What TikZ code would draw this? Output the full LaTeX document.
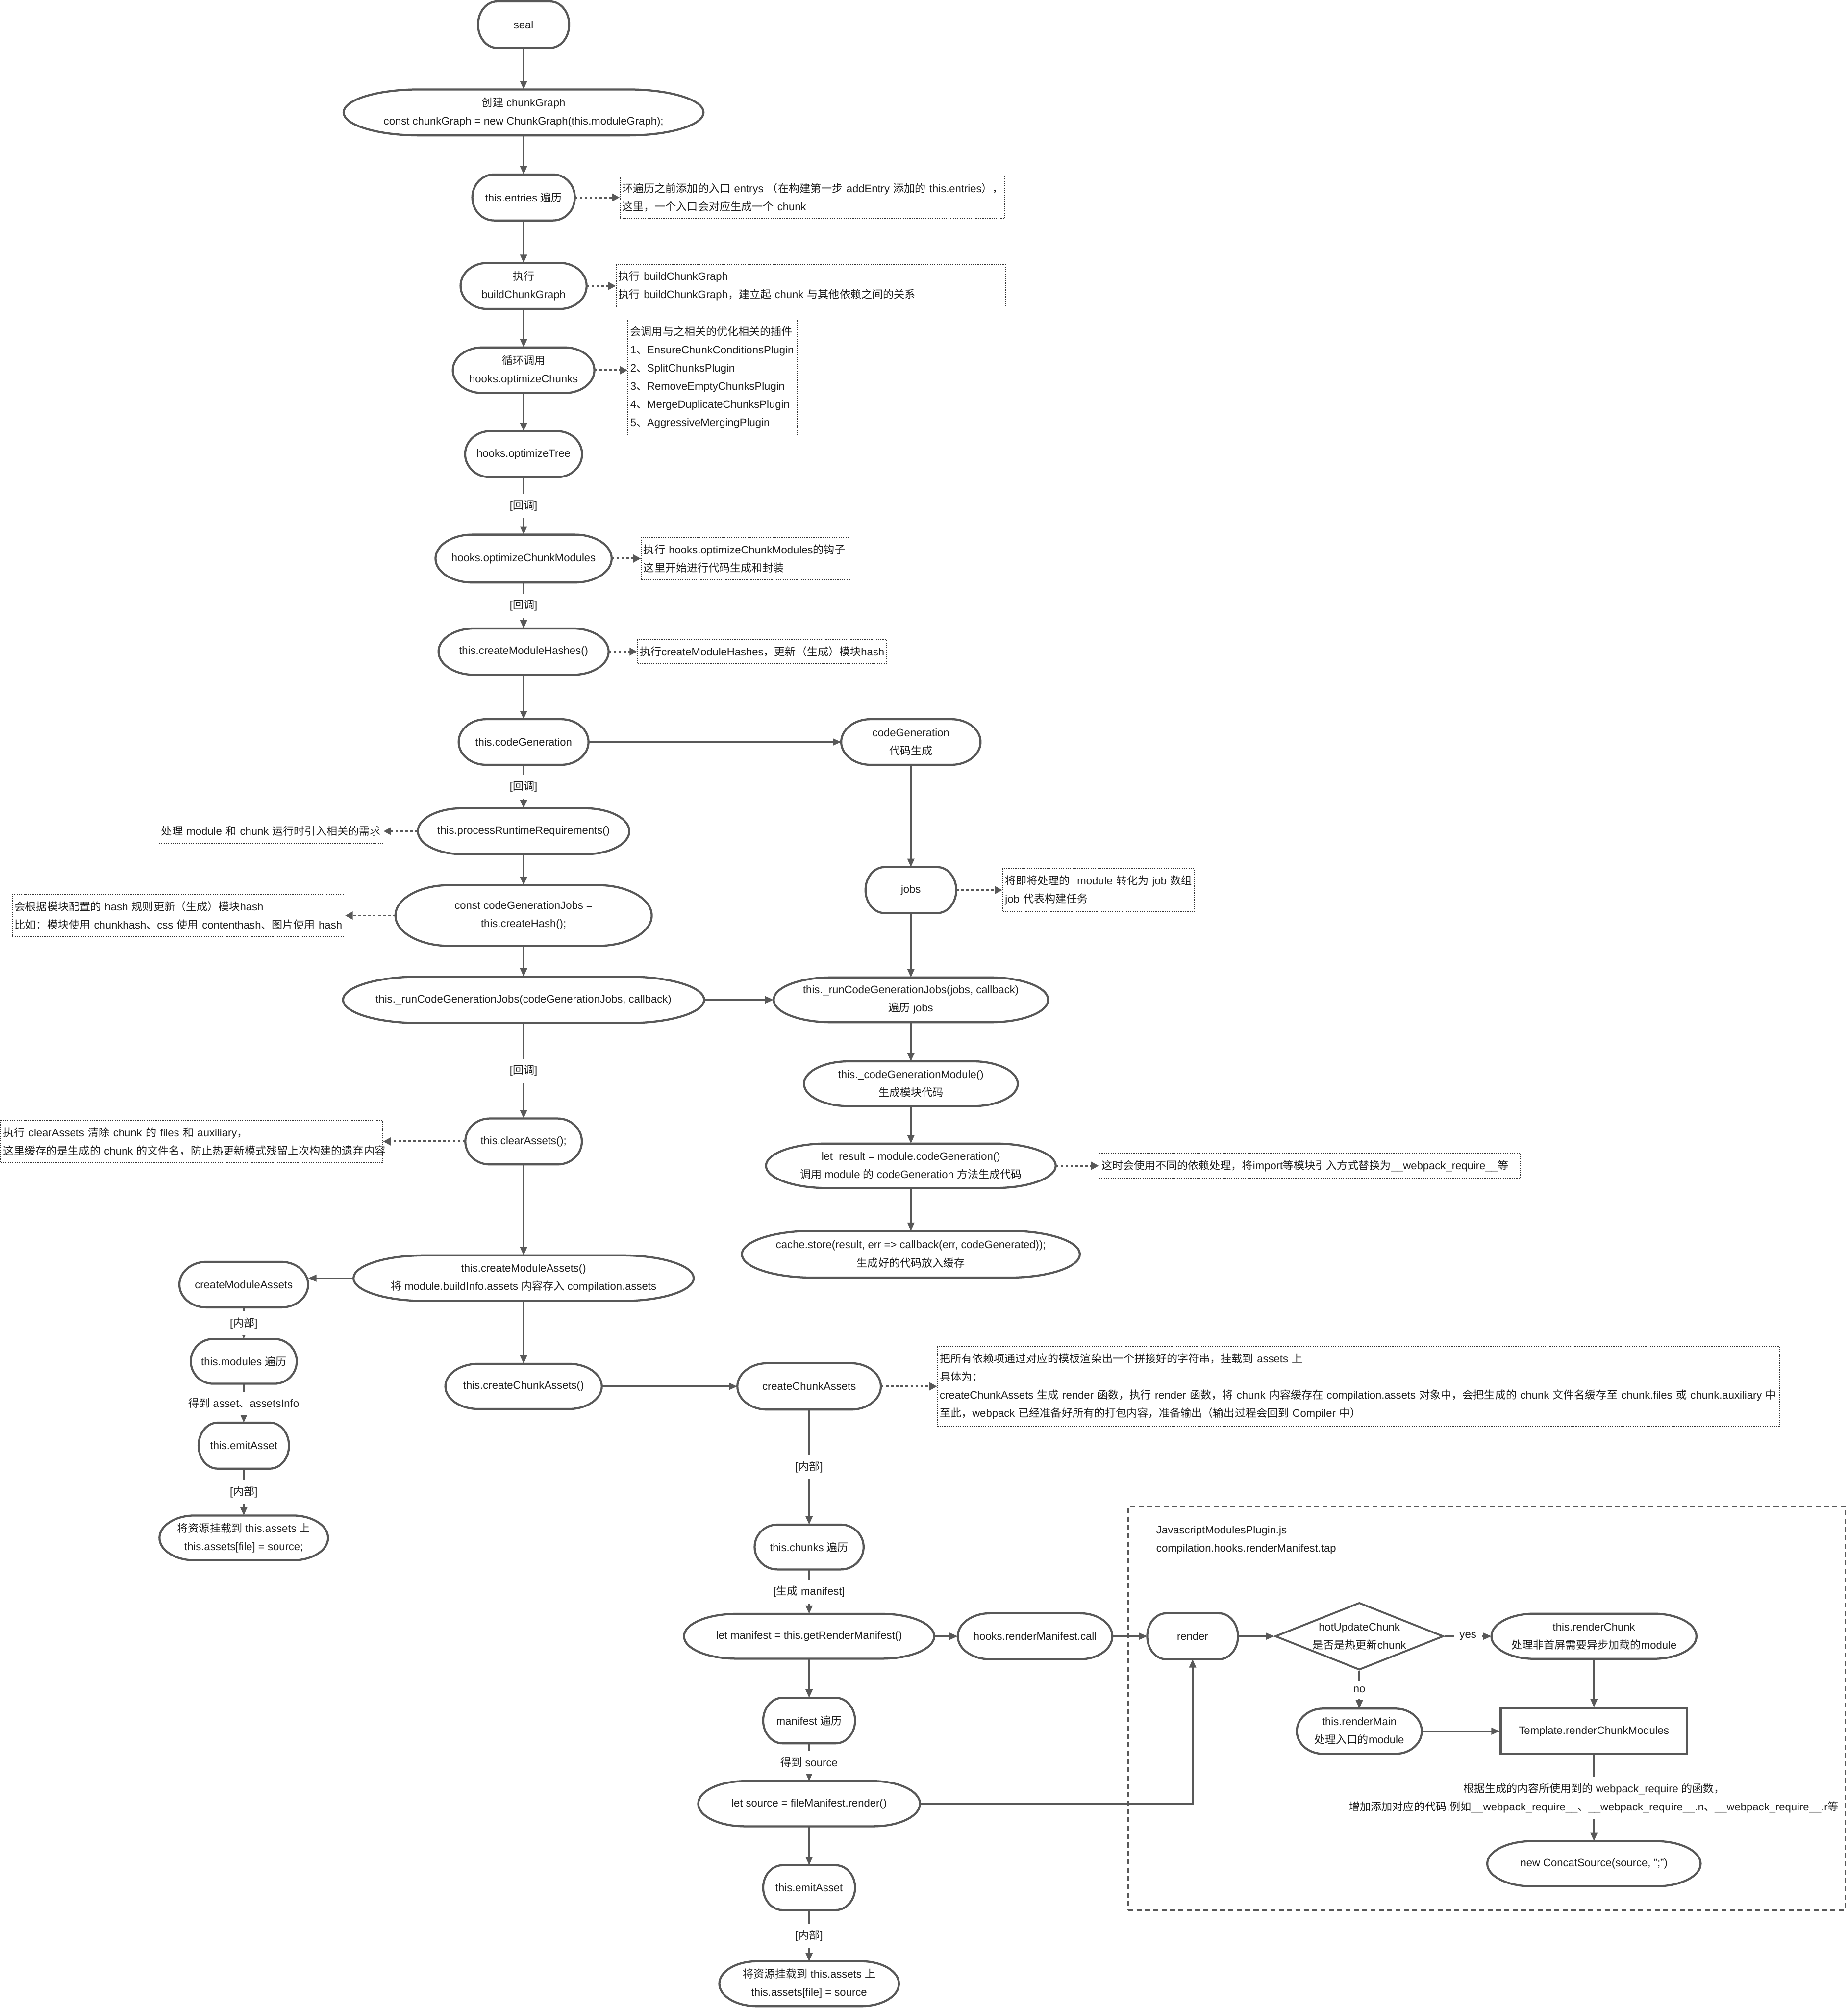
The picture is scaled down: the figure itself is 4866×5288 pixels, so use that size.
\documentclass[tikz,border=0pt]{standalone}
\usepackage{fontspec}
\setmainfont{Liberation Sans}
\newfontfamily\cjkfont{Noto Sans CJK SC}
\usetikzlibrary{arrows.meta,shapes.geometric,calc}
% automatic switch to the CJK font for Chinese characters
\XeTeXinterchartokenstate=1
\chardef\cjkcls=100
\newcount\cjkcnt
\def\setcjkrange#1#2{\cjkcnt=#1\relax\loop\XeTeXcharclass\cjkcnt=\cjkcls\relax\advance\cjkcnt by 1\relax\ifnum\cjkcnt<#2\relax\repeat}
\setcjkrange{"3000}{"3040}
\setcjkrange{"4E00}{"A000}
\setcjkrange{"FF00}{"FFF0}
\XeTeXinterchartoks 0 \cjkcls = {\cjkfont}
\XeTeXinterchartoks 4095 \cjkcls = {\cjkfont}
\XeTeXinterchartoks \cjkcls 0 = {\rmfamily}
\XeTeXinterchartoks \cjkcls 4095 = {\rmfamily}
\newcommand\oneln[1]{\mbox{#1}}
\definecolor{lc}{RGB}{88,88,88}
\definecolor{tc}{RGB}{30,30,30}
\definecolor{nc}{RGB}{50,50,50}
\tikzset{
  txt/.style={font=\fontsize{8.1pt}{13.6pt}\selectfont, text=tc},
  term/.style 2 args={txt, align=center, inner sep=0.02cm, outer sep=0pt,
    minimum width=#1*0.01cm, minimum height=#2*0.01cm},
  border/.style={draw=lc, line width=0.055cm, line join=round},
  rectbox/.style 2 args={txt, draw=lc, line width=0.055cm, fill=white, align=center,
    minimum width=#1*0.01cm, minimum height=#2*0.01cm},
  decision/.style={txt, draw=lc, line width=0.05cm, diamond, fill=white, align=center, inner sep=0pt,
    shape aspect=2.5, minimum width=4.43cm, minimum height=1.77cm},
  note/.style 2 args={txt, draw=nc, line width=0.02cm, dash pattern=on 0.03cm off 0.03cm, align=left,
    anchor=west, text width=#1, minimum height=#2, inner xsep=0.06cm, inner ysep=0pt},
  conn/.style={draw=lc, line width=0.045cm, -{Triangle[length=0.22cm,width=0.18cm]}},
  dconn/.style={draw=lc, line width=0.05cm, dash pattern=on 0.07cm off 0.06cm, -{Triangle[length=0.2cm,width=0.2cm]}},
  lbl/.style={txt, fill=white, inner xsep=0.06cm, inner ysep=0.17cm},
  jsbox/.style={draw=lc, line width=0.035cm, dash pattern=on 0.13cm off 0.09cm, inner sep=0pt},
}
% outline with elliptic ends for a terminal node: #1 node name, #2 end radius (px)
\newcommand\capsule[2]{%
\draw[border] ([xshift=#2*0.01cm]#1.north west) -- ([xshift=-#2*0.01cm]#1.north east)
 .. controls ([xshift=-#2*0.0044771cm]#1.north east) and ($(#1.east)!0.5523!(#1.north east)$) .. (#1.east)
 .. controls ($(#1.east)!0.5523!(#1.south east)$) and ([xshift=-#2*0.0044771cm]#1.south east) .. ([xshift=-#2*0.01cm]#1.south east)
 -- ([xshift=#2*0.01cm]#1.south west)
 .. controls ([xshift=#2*0.0044771cm]#1.south west) and ($(#1.west)!0.5523!(#1.south west)$) .. (#1.west)
 .. controls ($(#1.west)!0.5523!(#1.north west)$) and ([xshift=#2*0.0044771cm]#1.north west) .. ([xshift=#2*0.01cm]#1.north west) -- cycle;}
\begin{document}
\begin{tikzpicture}[x=0.01cm,y=-0.01cm]
\useasboundingbox (0,0) rectangle (4866,5288);
\fill[white] (0,0) rectangle (4866,5288);

% container of JavascriptModulesPlugin
\node[jsbox, minimum width=18.87cm, minimum height=10.62cm] (jsb) at (3915.5,4499) {};
\node[txt, align=left, anchor=west] (jst) at (3033,4055) {JavascriptModulesPlugin.js\\compilation.hooks.renderManifest.tap};

% main column
\node[term={240}{122}] (seal) at (1379,65) {seal};
\node[term={948}{121}] (cg) at (1379,296) {创建 chunkGraph\\const chunkGraph = new ChunkGraph(this.moduleGraph);};
\node[term={270}{121}] (ent) at (1379,520) {this.entries 遍历};
\node[term={332}{121}] (bcg) at (1379,753) {执行\\buildChunkGraph};
\node[term={373}{120}] (oc) at (1379,975) {循环调用\\hooks.optimizeChunks};
\node[term={308}{121}] (ot) at (1379,1196) {hooks.optimizeTree};
\node[term={464}{126}] (ocm) at (1379,1471) {hooks.optimizeChunkModules};
\node[term={448}{122}] (cmh) at (1379,1716) {this.createModuleHashes()};
\node[term={342}{120}] (tcg) at (1379,1954) {this.codeGeneration};
\node[term={557}{121}] (prr) at (1379,2189) {this.processRuntimeRequirements()};
\node[term={675}{160}] (chs) at (1379,2411) {const codeGenerationJobs =\\this.createHash();};
\node[term={951}{122}] (rjm) at (1379,2633) {this.\_runCodeGenerationJobs(codeGenerationJobs, callback)};
\node[term={307}{121}] (clr) at (1379,3006) {this.clearAssets();};
\node[term={896}{120}] (cma) at (1379,3366) {this.createModuleAssets()\\将 module.buildInfo.assets 内容存入 compilation.assets};
\node[term={412}{119}] (cca) at (1379,3651) {this.createChunkAssets()};

% left branch
\node[term={339}{120}] (cmal) at (642,3383) {createModuleAssets};
\node[term={279}{118}] (mods) at (642,3585) {this.modules 遍历};
\node[term={238}{121}] (ema1) at (642,3807) {this.emitAsset};
\node[term={444}{118}] (mnt1) at (642,4050) {将资源挂载到 this.assets 上\\this.assets[file] = source;};

% right column
\node[term={367}{120}] (cgr) at (2399,1954) {codeGeneration\\代码生成};
\node[term={239}{121}] (jobs) at (2399,2344) {jobs};
\node[term={723}{118}] (rjr) at (2399,2633) {this.\_runCodeGenerationJobs(jobs, callback)\\遍历 jobs};
\node[term={563}{118}] (cgm) at (2399,2854) {this.\_codeGenerationModule()\\生成模块代码};
\node[term={763}{117}] (res) at (2399,3070) {let \ result = module.codeGeneration()\\调用 module 的 codeGeneration 方法生成代码};
\node[term={890}{123}] (cache) at (2399,3303) {cache.store(result, err => callback(err, codeGenerated));\\生成好的代码放入缓存};

% chunk assets column
\node[term={378}{122}] (ccar) at (2131,3651) {createChunkAssets};
\node[term={287}{118}] (chk) at (2131,4074) {this.chunks 遍历};
\node[term={659}{118}] (lm) at (2131,4309) {let manifest = this.getRenderManifest()};
\node[term={242}{120}] (mfi) at (2131,4531) {manifest 遍历};
\node[term={584}{119}] (ls) at (2131,4750) {let source = fileManifest.render()};
\node[term={242}{118}] (ema2) at (2131,4971) {this.emitAsset};
\node[term={473}{118}] (mnt2) at (2131,5224) {将资源挂载到 this.assets 上\\this.assets[file] = source};
\node[term={407}{121}] (hrm) at (2726,4309) {hooks.renderManifest.call};

% render part
\node[term={239}{121}] (rnd) at (3141,4309) {render};
\node[decision] (hot) at (3580,4309) {hotUpdateChunk\\是否是热更新chunk};
\node[term={540}{119}] (rch) at (4198,4309) {this.renderChunk\\处理非首屏需要异步加载的module};
\node[term={329}{119}] (rmn) at (3580,4559) {this.renderMain\\处理入口的module};
\node[rectbox={491}{120}] (tpl) at (4198,4559) {Template.renderChunkModules};
\node[term={562}{119}] (ccs) at (4198,4908) {new ConcatSource(source, ";")};

% outlines of the terminal nodes
\foreach \nm/\rr in {seal/50, cg/199, ent/57, bcg/70, oc/78, ot/65, ocm/97, cmh/94, tcg/72, prr/117,
  chs/142, rjm/200, clr/64, cma/188, cca/87, cmal/71, mods/59, ema1/50, mnt1/93, cgr/77, jobs/50,
  rjr/152, cgm/118, res/160, cache/187, ccar/79, chk/60, lm/138, mfi/51, ls/123, ema2/51, mnt2/99,
  hrm/85, rnd/50, rch/113, rmn/69, ccs/118}
  {\capsule{\nm}{\rr}}

% notes
\node[note={10.01cm}{1.12cm}] (n1) at (1632,520) {\oneln{环遍历之前添加的入口 entrys （在构建第一步 addEntry 添加的 this.entries），}\\\oneln{这里，一个入口会对应生成一个 chunk}};
\node[note={10.12cm}{1.12cm}] (n2) at (1622,753) {\oneln{执行 buildChunkGraph}\\\oneln{执行 buildChunkGraph，建立起 chunk 与其他依赖之间的关系}};
\node[note={4.33cm}{3.03cm}] (n3) at (1653,994) {\oneln{会调用与之相关的优化相关的插件}\\\oneln{1、EnsureChunkConditionsPlugin}\\\oneln{2、SplitChunksPlugin}\\\oneln{3、RemoveEmptyChunksPlugin}\\\oneln{4、MergeDuplicateChunksPlugin}\\\oneln{5、AggressiveMergingPlugin}};
\node[note={5.38cm}{1.12cm}] (n4) at (1688,1471) {\oneln{执行 hooks.optimizeChunkModules的钩子}\\\oneln{这里开始进行代码生成和封装}};
\node[note={6.43cm}{0.64cm}] (n5) at (1678,1716) {\oneln{执行createModuleHashes，更新（生成）模块hash}};
\node[note={5.78cm}{0.65cm}, anchor=east] (n6) at (1010,2189) {\oneln{处理 module 和 chunk 运行时引入相关的需求}};
\node[note={8.63cm}{1.12cm}, anchor=east] (n7) at (909,2411) {\oneln{会根据模块配置的 hash 规则更新（生成）模块hash}\\\oneln{比如：模块使用 chunkhash、css 使用 contenthash、图片使用 hash}};
\node[note={4.93cm}{1.12cm}] (n8) at (2640,2344) {\oneln{将即将处理的 \ module 转化为 job 数组}\\\oneln{job 代表构建任务}};
\node[note={10.96cm}{0.67cm}] (n9) at (2894,3070) {\oneln{这时会使用不同的依赖处理，将import等模块引入方式替换为\_\_webpack\_require\_\_等}};
\node[note={9.93cm}{1.10cm}, anchor=east] (n10) at (1009,3006) {\oneln{执行 clearAssets 清除 chunk 的 files 和 auxiliary，}\\\oneln{这里缓存的是生成的 chunk 的文件名，防止热更新模式残留上次构建的遗弃内容}};
\node[note={22.05cm}{2.10cm}] (n11) at (2468,3651) {\oneln{把所有依赖项通过对应的模板渲染出一个拼接好的字符串，挂载到 assets 上}\\\oneln{具体为：}\\\oneln{createChunkAssets 生成 render 函数，执行 render 函数，将 chunk 内容缓存在 compilation.assets 对象中，会把生成的 chunk 文件名缓存至 chunk.files 或 chunk.auxiliary 中}\\\oneln{至此，webpack 已经准备好所有的打包内容，准备输出（输出过程会回到 Compiler 中）}};

% main connectors
\draw[conn] (seal) -- (cg);
\draw[conn] (cg) -- (ent);
\draw[conn] (ent) -- (bcg);
\draw[conn] (bcg) -- (oc);
\draw[conn] (oc) -- (ot);
\draw[conn] (ot) -- node[lbl] (l1) {[回调]} (ocm);
\draw[conn] (ocm) -- node[lbl] (l2) {[回调]} (cmh);
\draw[conn] (cmh) -- (tcg);
\draw[conn] (tcg) -- (cgr);
\draw[conn] (tcg) -- node[lbl] (l3) {[回调]} (prr);
\draw[conn] (prr) -- (chs);
\draw[conn] (chs) -- (rjm);
\draw[conn] (rjm) -- (rjr);
\draw[conn] (rjm) -- node[lbl] (l4) {[回调]} (clr);
\draw[conn] (clr) -- (cma);
\draw[conn] (cma) -- (cca);
\draw[conn] (cca) -- (ccar);
% left branch
\draw[conn] (cma.west) -- (cma.west -| cmal.east);
\draw[conn] (cmal) -- node[lbl] (l5) {[内部]} (mods);
\draw[conn] (mods) -- node[lbl] (l6) {得到 asset、assetsInfo} (ema1);
\draw[conn] (ema1) -- node[lbl] (l7) {[内部]} (mnt1);
% right column
\draw[conn] (cgr) -- (jobs);
\draw[conn] (jobs) -- (rjr);
\draw[conn] (rjr) -- (cgm);
\draw[conn] (cgm) -- (res);
\draw[conn] (res) -- (cache);
% chunk assets
\draw[conn] (ccar) -- node[lbl] (l8) {[内部]} (chk);
\draw[conn] (chk) -- node[lbl] (l9) {[生成 manifest]} (lm);
\draw[conn] (lm) -- (mfi);
\draw[conn] (mfi) -- node[lbl] (l10) {得到 source} (ls);
\draw[conn] (ls) -- (ema2);
\draw[conn] (ema2) -- node[lbl] (l11) {[内部]} (mnt2);
\draw[conn] (lm) -- (hrm);
\draw[conn] (hrm) -- (rnd);
\draw[conn] (ls.east) -| (rnd.south);
% render
\draw[conn] (rnd) -- (hot);
\draw[conn] (hot) -- node[lbl, inner xsep=0.15cm] (l12) {yes} (rch);
\draw[conn] (hot) -- node[lbl] (l13) {no} (rmn);
\draw[conn] (rch) -- (tpl);
\draw[conn] (rmn) -- (tpl);
\draw[conn] (tpl) -- node[lbl, align=center] (l14) {根据生成的内容所使用到的 webpack\_require 的函数，\\增加添加对应的代码,例如\_\_webpack\_require\_\_、\_\_webpack\_require\_\_.n、\_\_webpack\_require\_\_.r等} (ccs);

% note connectors
\draw[dconn] (ent) -- (n1);
\draw[dconn] (bcg) -- (n2);
\draw[dconn] (oc.east) -- (oc.east -| n3.west);
\draw[dconn] (ocm) -- (n4);
\draw[dconn] (cmh) -- (n5);
\draw[dconn] (prr) -- (n6);
\draw[dconn] (chs) -- (n7);
\draw[dconn] (jobs) -- (n8);
\draw[dconn] (res) -- (n9);
\draw[dconn] (clr) -- (n10);
\draw[dconn] (ccar) -- (n11);
\end{tikzpicture}
\end{document}
